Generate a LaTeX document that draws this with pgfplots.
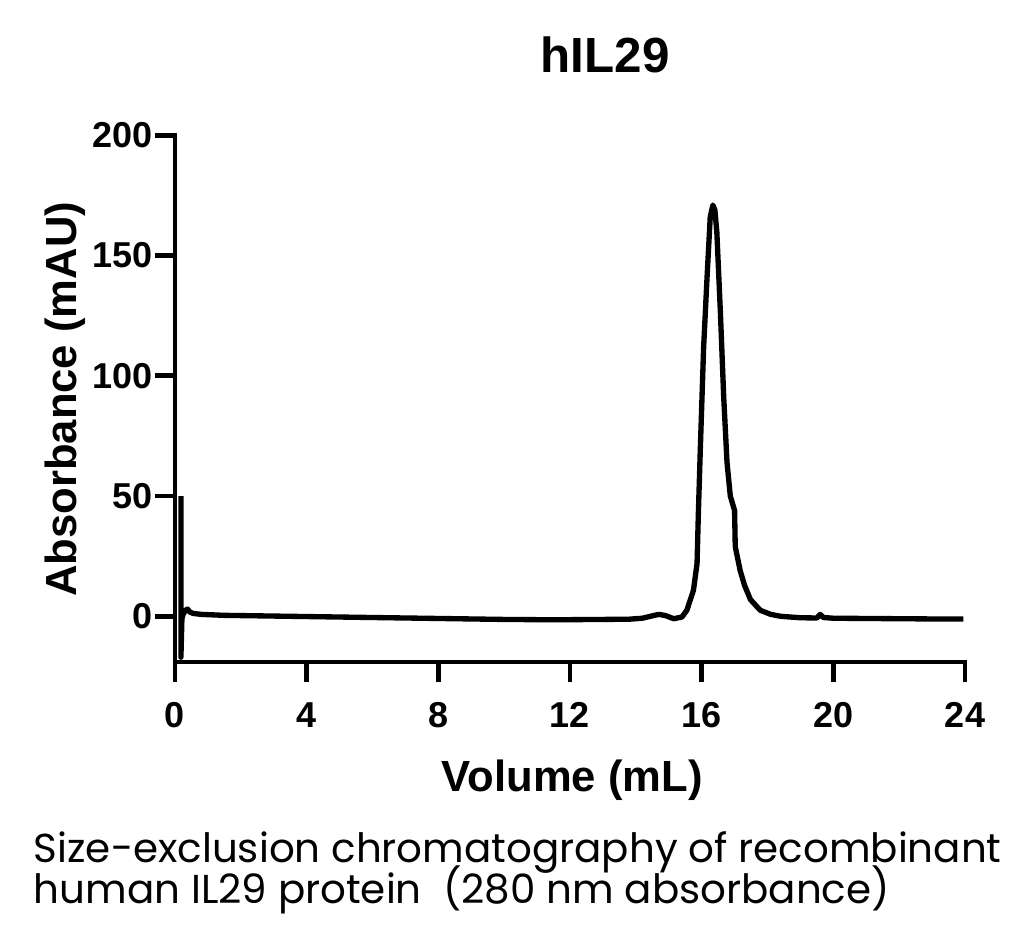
\documentclass[border=0pt]{standalone}
\usepackage{fontspec}
\setmainfont{Liberation Sans}
\newfontfamily\capfont{Poppins}
\usepackage{pgfplots}
\pgfplotsset{compat=1.18}
\newcommand{\tl}[1]{{\fontsize{27}{30}\selectfont\bfseries #1}}
\begin{document}
\begin{tikzpicture}
\path[use as bounding box] (-131.25pt,-213pt) rectangle (636.75pt,496.5pt);
\begin{axis}[
  at={(0,0)}, anchor=south west,
  scale only axis, width=592.5pt, height=395pt,
  xmin=0, xmax=24, ymin=-19, ymax=200,
  axis lines*=left,
  axis line style={line width=3.5pt, line cap=rect},
  every tick/.style={line width=3.5pt, black},
  tick align=outside, major tick length=15pt,
  xtick={0,4,8,12,16,20,24},
  xticklabels={\tl{0},\tl{4},\tl{8},\tl{12},\tl{16},\tl{20},\tl{24}},
  ytick={0,50,100,150,200},
  yticklabels={\tl{0},\tl{50},\tl{100},\tl{150},\tl{200}},
  xticklabel style={yshift=-12pt},
  yticklabel style={xshift=2pt},
  clip=false,
]
\addplot[black, line width=4pt, line join=round] coordinates {
(0.18,50)(0.18,-17)(0.21,-1)(0.25,1)(0.32,2.5)(0.38,3)(0.45,1.8)(0.55,1.2)(0.8,0.8)(1.5,0.4)(3,0.1)(4,-0.1)(5,-0.3)(6,-0.5)(7,-0.7)(8,-0.9)(9,-1.1)(10,-1.3)(11,-1.4)(12,-1.4)(13,-1.3)(13.8,-1.2)(14.2,-0.8)(14.5,0.2)(14.7,0.8)(14.9,0.3)(15.15,-1.0)(15.4,-0.3)(15.55,2.5)(15.75,10.8)(15.86,22)(15.9,43)(15.96,70)(16.06,112)(16.16,140)(16.26,166)(16.34,171)(16.40,169)(16.46,160)(16.57,126)(16.67,91)(16.77,64)(16.87,50)(17.0,44)(17.02,29)(17.17,19)(17.3,13)(17.48,7)(17.78,2.5)(18.1,0.8)(18.4,0)(19,-0.6)(19.5,-0.7)(19.6,0.8)(19.7,-0.5)(20,-0.8)(21,-0.9)(22,-1.0)(23,-1.1)(23.95,-1.1)
};
\end{axis}
\node[font=\fontsize{37}{40}\selectfont\bfseries] at (322.5pt,455pt) {hIL29};
\node[font=\fontsize{32.7}{35}\selectfont\bfseries] at (298pt,-88.5pt) {Volume (mL)};
\node[font=\fontsize{32.7}{35}\selectfont\bfseries, rotate=90] at (-82pt,197pt) {Absorbance (mAU)};
\node[anchor=base west, inner sep=0pt, font=\capfont\fontsize{30.3}{32}\selectfont] at (-106pt,-150pt) {Size-exclusion chromatography of recombinant};
\node[anchor=base west, inner sep=0pt, font=\capfont\fontsize{30.3}{32}\selectfont] at (-106pt,-180.75pt) {human IL29 protein\ \ (280 nm absorbance)};
\end{tikzpicture}
\end{document}
